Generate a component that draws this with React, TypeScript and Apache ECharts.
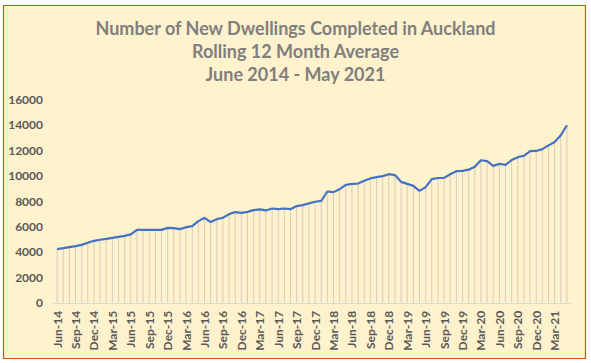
import React, { useEffect, useRef } from "react";
import * as echarts from "echarts";

const MONTHS = ["Jan", "Feb", "Mar", "Apr", "May", "Jun", "Jul", "Aug", "Sep", "Oct", "Nov", "Dec"];
const categories: string[] = [];
for (let k = 0; k < 84; k++) {
  const m = (5 + k) % 12;
  const y = 14 + Math.floor((5 + k) / 12);
  categories.push(MONTHS[m] + "-" + y);
}

const dwellings = [
  4230, 4300, 4380, 4460, 4560, 4720, 4880, 4960, 5030, 5110, 5190, 5270,
  5380, 5740, 5740, 5740, 5740, 5740, 5900, 5880, 5800, 5950, 6030, 6430,
  6690, 6350, 6580, 6690, 6980, 7140, 7080, 7160, 7290, 7350, 7270, 7420,
  7370, 7420, 7370, 7610, 7690, 7820, 7950, 8020, 8760, 8710, 8940, 9280,
  9360, 9380, 9600, 9790, 9890, 9970, 10120, 10050, 9520, 9360, 9200, 8810,
  9100, 9730, 9820, 9830, 10120, 10360, 10380, 10480, 10700, 11220, 11150, 10780,
  10930, 10860, 11230, 11460, 11570, 11940, 11950, 12090, 12390, 12650, 13190, 13970,
];

const titleLines = [
  "Number of New Dwellings Completed in Auckland",
  "Rolling 12 Month Average",
  "June 2014 - May 2021",
];

export default function App() {
  const ref = useRef<HTMLDivElement>(null);
  useEffect(() => {
    const chart = echarts.init(ref.current!, undefined, { renderer: "svg" });
    chart.setOption({
      animation: false,
      backgroundColor: "#ffffff",
      graphic: [
        {
          type: "rect",
          z: -10,
          silent: true,
          shape: { x: 3.5, y: 5.5, width: 582, height: 353 },
          style: { fill: "#FFF2CC", stroke: "#C55A11", lineWidth: 1.2 },
        },
      ],
      title: {
        text: titleLines.join("\n"),
        left: "center",
        top: 11,
        textStyle: {
          fontFamily: "Lato",
          fontWeight: "bold",
          fontSize: 18,
          lineHeight: 23,
          color: "#7F7F7F",
        },
      },
      grid: { left: 54, right: 21, top: 99.5, height: 203.3, containLabel: false },
      xAxis: {
        type: "category",
        data: categories,
        boundaryGap: true,
        axisLine: { lineStyle: { color: "#D9D9D9", width: 1 } },
        axisTick: { show: false },
        axisLabel: {
          interval: 2,
          rotate: 90,
          margin: 8,
          fontFamily: "Lato",
          fontWeight: "bold",
          fontSize: 12,
          color: "#595959",
        },
      },
      yAxis: {
        type: "value",
        min: 0,
        max: 16000,
        interval: 2000,
        splitLine: { show: false },
        axisLine: { show: false },
        axisTick: { show: false },
        axisLabel: {
          margin: 11,
          formatter: (v: number) => String(v),
          fontFamily: "Lato",
          fontWeight: "bold",
          fontSize: 12,
          color: "#595959",
        },
      },
      series: [
        {
          type: "bar",
          data: dwellings,
          barWidth: 1,
          itemStyle: { color: "#D5CDBE" },
          silent: true,
        },
        {
          type: "line",
          data: dwellings,
          symbol: "none",
          lineStyle: { color: "#4472C4", width: 2.2 },
        },
      ],
    });
    return () => chart.dispose();
  }, []);
  return (
    <div
      ref={ref}
      style={{ position: "absolute", left: 0, top: 0, width: 591, height: 363 }}
    />
  );
}
